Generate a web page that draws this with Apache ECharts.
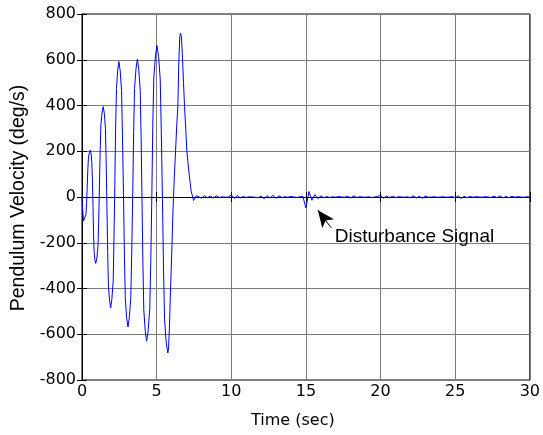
<!DOCTYPE html>
<html>
<head>
<meta charset="utf-8">
<title>Pendulum Velocity</title>
<script src="https://cdn.jsdelivr.net/npm/echarts@6/dist/echarts.min.js"></script>
<style>
  html, body { margin: 0; padding: 0; background: #fff; }
  #chart { width: 543px; height: 435px; }
</style>
</head>
<body>
<div id="chart"></div>
<script>
// Swing-up phase: time (s) and pendulum velocity (deg/s)
const swingTime = [
  0.00, 0.05, 0.10, 0.15, 0.21, 0.27, 0.31, 0.35, 0.39, 0.43, 0.49, 0.55,
  0.61, 0.66, 0.70, 0.74, 0.77, 0.81, 0.86, 0.92,
  1.00, 1.07, 1.12, 1.17, 1.22, 1.27, 1.35, 1.42,
  1.50, 1.57, 1.62, 1.67, 1.72, 1.77, 1.85, 1.92,
  2.00, 2.09, 2.14, 2.20, 2.25, 2.31, 2.39, 2.47,
  2.56, 2.65, 2.71, 2.78, 2.84, 2.90, 2.99, 3.08,
  3.17, 3.27, 3.33, 3.40, 3.46, 3.52, 3.62, 3.71,
  3.80, 3.90, 3.96, 4.02, 4.08, 4.14, 4.24, 4.33,
  4.43, 4.54, 4.61, 4.68, 4.74, 4.81, 4.92, 5.02,
  5.13, 5.24, 5.31, 5.39, 5.46, 5.53, 5.64, 5.75,
  5.80, 5.86, 5.93, 6.01, 6.09, 6.18, 6.27, 6.36, 6.42, 6.49, 6.55, 6.60,
  6.66, 6.72, 6.80, 6.87, 6.95, 7.02, 7.10, 7.17, 7.25, 7.32, 7.40, 7.47, 7.53, 7.60, 7.67
];
const swingVel = [
  0, -60, -105, -110, -99, -75, -23, 48, 118, 170, 194, 205,
  188, 151, 69, -43, -154, -236, -273, -290,
  -266, -215, -102, 53, 207, 320, 371, 395,
  364, 298, 153, -45, -243, -388, -454, -485,
  -447, -367, -189, 54, 296, 474, 554, 592,
  551, 464, 273, 12, -249, -440, -527, -568,
  -527, -439, -246, 18, 281, 474, 562, 603,
  560, 467, 264, -14, -291, -494, -587, -630,
  -585, -488, -275, 16, 307, 520, 617, 662,
  615, 514, 292, -10, -312, -534, -635, -682,
  -660, -560, -407, -250, -70, 80, 205, 330, 395, 599, 700, 716,
  700, 628, 500, 395, 300, 205, 150, 105, 60, 23, 5, -15, -22, -8, 6
];

// Balancing phase: sampled every 0.2 s from 7.8 s to 30 s
const settleStart = 7.8;
const settleStep = 0.2;
const settleVel = [
  3, -5, 6, -3, 4,
  -4, 5, -2, 1, -1,
  0, 9, -6, 7, -4,
  2, -2, 1, 0, -1,
  -3, 4, -7, 6, -5,
  8, -6, 5, -2, 1,
  -1, 2, 0, -2, 1,
  2, -48, 24, -14, 10,
  -7, 5, -3, 2, -2,
  1, -1, 2, 0, -1,
  3, -4, 5, -2, 1,
  0, -1, 1, -2, 0,
  2, 7, -5, 4, -3,
  3, -2, 1, 0, -1,
  1, -3, 5, -4, 3,
  -5, 4, -1, 0, 1,
  -1, 0, 1, -1, 0,
  2, -4, 5, -6, 3,
  -3, 2, -1, 1, 0,
  -1, 1, 0, -2, 4,
  -3, 5, -4, 2, -3,
  3, -1, 1, 0, -1,
  1, 0
];

// Axis ticks
const xTicks = [0, 5, 10, 15, 20, 25, 30];
const yTicks = [-800, -600, -400, -200, 0, 200, 400, 600, 800];

// Annotation
const noteText = 'Disturbance Signal';
const arrowTail = [16.7, -135];
const arrowTip = [15.8, -58];
const notePos = [16.93, -175];

const points = [];
swingTime.forEach((t, i) => points.push([t, swingVel[i]]));
settleVel.forEach((v, i) => points.push([+(settleStart + i * settleStep).toFixed(2), v]));

const tickFont = { fontFamily: 'DejaVu Sans', fontSize: 16, color: '#000' };
const gridColor = '#7c7c7c';

const chart = echarts.init(document.getElementById('chart'), null, { renderer: 'canvas' });
chart.setOption({
  animation: false,
  backgroundColor: '#fff',
  grid: { left: 82, top: 14, width: 450, height: 366, show: true, borderColor: '#000', borderWidth: 1, backgroundColor: 'transparent' },
  xAxis: [{
    type: 'value', min: xTicks[0], max: xTicks[xTicks.length - 1], interval: 5,
    axisLine: { show: true, lineStyle: { color: '#000', width: 1 } },
    axisTick: { show: true, inside: true, length: 5, lineStyle: { color: '#000' } },
    axisLabel: Object.assign({ margin: 4 }, tickFont),
    splitLine: { show: true, lineStyle: { color: gridColor, width: 1 } }
  }, {
    type: 'value', position: 'top', min: xTicks[0], max: xTicks[xTicks.length - 1], interval: 5,
    axisLine: { show: false },
    axisTick: { show: true, inside: true, length: 5, lineStyle: { color: '#000' } },
    axisLabel: { show: false }, splitLine: { show: false }
  }],
  yAxis: [{
    type: 'value', min: yTicks[0], max: yTicks[yTicks.length - 1], interval: 200,
    axisLine: { show: true, lineStyle: { color: '#000', width: 1 } },
    axisTick: { show: true, inside: true, length: 5, lineStyle: { color: '#000' } },
    axisLabel: Object.assign({ margin: 6 }, tickFont),
    splitLine: { show: true, lineStyle: { color: gridColor, width: 1 } }
  }, {
    type: 'value', position: 'right', min: yTicks[0], max: yTicks[yTicks.length - 1], interval: 200,
    axisLine: { show: false },
    axisTick: { show: true, inside: true, length: 5, lineStyle: { color: '#000' } },
    axisLabel: { show: false }, splitLine: { show: false }
  }],
  graphic: [{
    type: 'text', left: 251, top: 413,
    style: { text: 'Time (sec)', font: '16px "DejaVu Sans"', fill: '#000' }
  }, {
    type: 'text', x: 19, y: 198, rotation: Math.PI / 2,
    style: { text: 'Pendulum Velocity (deg/s)', font: '19.5px "Liberation Sans"', fill: '#000', align: 'center', verticalAlign: 'middle' }
  }],
  series: [{
    type: 'line', data: points, showSymbol: false, symbol: 'none',
    lineStyle: { color: '#0000ff', width: 1 },
    clip: true,
    markLine: {
      silent: true, symbol: ['none', 'arrow'], symbolSize: [11, 17],
      lineStyle: { color: '#000', width: 1, type: 'solid' },
      label: { show: false },
      data: [[{ coord: arrowTail }, { coord: arrowTip }]]
    },
    markPoint: {
      silent: true, symbol: 'circle', symbolSize: 0,
      itemStyle: { color: 'transparent' },
      label: { show: true, position: 'right', distance: 0, formatter: noteText, fontFamily: 'Liberation Sans', fontSize: 19, color: '#000' },
      data: [{ coord: notePos }]
    }
  }]
});
</script>
</body>
</html>
